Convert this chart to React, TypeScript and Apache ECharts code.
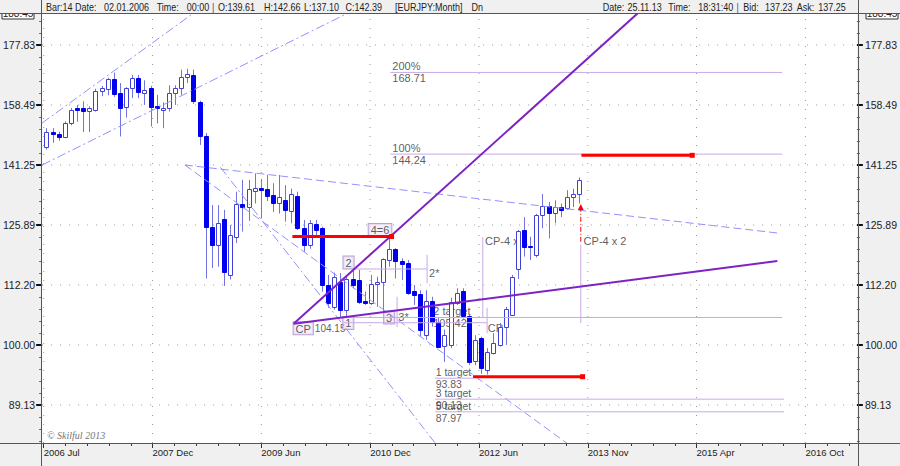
import React, { useEffect, useRef } from "react";
import * as echarts from "echarts";

// month index 0 = 2006 Jul; first visible candle = index 1 (2006 Aug), last = 88 (2013 Nov)
const FIRST_MONTH = 1;
const opens = [
  146.1, 150.5, 150.0, 149.0, 153.0, 157.6, 157.6, 156.8, 157.0, 162.9,
  163.4, 166.6, 162.1, 157.8, 163.6, 166.8, 162.3, 163.6, 158.3, 157.0,
  157.6, 162.1, 163.9, 167.2, 168.0, 159.4, 149.4, 125.5, 121.2, 127.3,
  114.4, 123.1, 131.0, 130.4, 134.4, 135.2, 135.0, 133.4, 131.2, 132.1,
  129.4, 133.2, 125.1, 121.2, 126.1, 125.1, 112.2, 107.6, 112.9, 106.9,
  113.6, 113.3, 108.8, 108.3, 112.4, 112.9, 117.7, 120.2, 117.4, 117.0,
  111.0, 110.2, 102.0, 108.8, 104.6, 99.8, 100.0, 108.3, 111.0, 105.8,
  97.0, 101.3, 95.3, 98.4, 100.0, 103.6, 105.9, 115.7, 124.7, 120.9,
  118.9, 128.3, 130.6, 128.8, 130.2, 130.0, 132.8, 133.6,
];
const closes = [
  150.5, 150.0, 149.0, 153.2, 157.0, 157.0, 156.6, 157.5, 162.9, 163.7,
  166.5, 161.8, 157.6, 163.6, 166.8, 162.6, 163.0, 157.8, 157.5, 157.6,
  162.1, 163.9, 167.2, 168.2, 159.6, 149.4, 125.3, 121.2, 126.4, 115.1,
  123.5, 131.0, 130.4, 134.8, 135.2, 134.7, 133.2, 131.2, 132.8, 129.6,
  133.6, 125.1, 121.2, 126.3, 124.7, 112.2, 108.3, 114.0, 106.9, 113.6,
  112.2, 108.7, 108.4, 112.4, 112.9, 117.9, 120.2, 117.4, 116.8, 110.4,
  110.1, 103.0, 108.8, 104.5, 99.6, 101.9, 108.5, 110.4, 105.8, 96.7,
  101.0, 95.6, 98.7, 100.3, 103.6, 107.1, 114.0, 124.5, 120.6, 120.6,
  128.3, 130.6, 128.8, 130.3, 129.6, 132.8, 133.6, 137.3,
];
const highs = [
  151.6, 151.6, 150.6, 153.6, 157.6, 158.5, 159.6, 158.1, 163.5, 164.4,
  167.0, 168.7, 165.3, 164.0, 167.9, 167.9, 166.2, 164.4, 161.6, 159.3,
  164.6, 164.6, 169.6, 169.9, 169.6, 159.8, 150.2, 130.8, 130.8, 129.6,
  125.9, 134.2, 137.3, 137.3, 139.0, 137.5, 138.6, 136.4, 138.6, 135.9,
  135.0, 134.2, 127.1, 127.1, 127.1, 125.5, 114.4, 114.9, 114.8, 114.0,
  115.5, 115.5, 110.8, 114.4, 114.0, 118.1, 122.7, 120.4, 118.1, 117.7,
  112.2, 111.1, 111.1, 109.7, 105.3, 103.0, 109.5, 111.5, 111.5, 106.0,
  101.9, 101.6, 99.4, 102.3, 104.3, 107.6, 114.4, 124.7, 127.8, 123.1,
  128.6, 133.6, 131.6, 132.0, 131.2, 134.6, 135.0, 137.9,
];
const lows = [
  145.5, 147.4, 148.0, 148.7, 152.4, 153.5, 150.5, 150.5, 156.5, 161.2,
  161.5, 161.0, 149.2, 154.7, 160.6, 160.6, 158.5, 152.1, 153.0, 151.6,
  156.5, 158.5, 161.6, 165.3, 158.8, 146.8, 113.6, 115.9, 116.2, 112.0,
  113.4, 121.6, 124.3, 126.9, 131.2, 127.5, 131.8, 129.1, 128.7, 126.7,
  126.3, 124.7, 119.6, 120.3, 123.0, 110.8, 107.4, 107.0, 105.3, 105.3,
  111.5, 108.2, 108.0, 108.0, 107.6, 106.6, 116.2, 113.6, 113.3, 110.1,
  108.0, 101.6, 101.0, 103.6, 99.4, 96.8, 99.4, 108.0, 105.2, 96.2,
  96.2, 94.6, 94.5, 98.2, 99.7, 100.0, 105.7, 113.5, 118.5, 117.7,
  118.3, 125.1, 122.7, 126.3, 127.8, 129.6, 130.3, 131.2,
];

const yTickPrices = [89.13, 100.0, 112.2, 125.89, 141.25, 158.49, 177.83];
const xTickLabels = ["2006 Jul", "2007 Dec", "2009 Jun", "2010 Dec", "2012 Jun", "2013 Nov", "2015 Apr", "2016 Oct"];
const xTickMonths = [0.39, 18.16, 35.93, 53.7, 71.47, 89.24, 107.0, 124.78];

// header texts
const headerLeft = ["Bar:14", "Date:", "02.01.2006", "Time:", "00:00", "|", "O:139.61", "H:142.66", "L:137.10", "C:142.39", "[EURJPY:Month]", "Dn"];
const headerLeftX = [46, 75, 104, 156.7, 186.7, 212, 218, 264, 304, 345.5, 395, 471.5];
const headerRight = ["Date:", "25.11.13", "Time:", "18:31:40", "|", "Bid:", "137.23", "Ask:", "137.25"];
const headerRightX = [602.7, 627.5, 668.3, 698.3, 736.5, 743.3, 765, 796.7, 818.3];

// drawing objects: [month index, price]
const purpleLines = [
  [[41.2, 104.15], [97.5, 189.2]],
  [[41.2, 104.15], [120.2, 117.5]],
];
const redLines = [
  [[41.0, 123.15], [57.2, 123.15]],
  [[88.2, 143.9], [106.3, 143.9]],
  [[70.5, 94.1], [88.4, 94.1]],
];
const redArrow = [[88.1, 121.9], [88.1, 130.3]];
const lightLines = [
  [[57.0, 168.71], [121.0, 168.71]],
  [[57.0, 144.24], [121.0, 144.24]],
  [[49.3, 105.42], [121.0, 105.42]],
  [[49.3, 104.37], [72.8, 104.37]],
  [[64.3, 93.83], [70.5, 93.83]],
  [[64.3, 90.13], [121.3, 90.13]],
  [[64.3, 87.97], [121.3, 87.97]],
  [[72.1, 123.0], [72.1, 105.3]],
  [[88.1, 121.2], [88.1, 104.3]],
  [[50.5, 115.7], [63.0, 115.7]],
  [[63.0, 118.9], [63.0, 112.6]],
  [[58.1, 109.7], [58.1, 103.5]],
  [[72.8, 107.4], [72.8, 102.3]],
];
const dashDotLines = [
  [[0.13, 153.1], [25.5, 190.1]],
  [[0.13, 141.25], [51.0, 190.1]],
  [[29.28, 140.6], [65.0, 82.0]],
];
const dashedLines = [
  [[23.45, 141.25], [120.2, 123.98]],
  [[23.45, 141.25], [86.5, 82.35]],
];
// [month, price, text, align, vAlign, dx, dy, fontSize]
const textNotes: [number, number, string, string, string, number, number, number][] = [
  [57.0, 168.71, "200%\n168.71", "left", "middle", 2, 0, 11],
  [57.0, 144.24, "100%\n144.24", "left", "middle", 2, 0, 11],
  [41.2, 104.15, "{b|CP}{n|104.15}", "left", "top", 0, -1, 11],
  [57.0, 123.15, "{b|4=6}", "right", "bottom", 1, -1, 11],
  [50.5, 115.7, "{b|2}", "center", "bottom", -2, -1, 11],
  [63.0, 114.8, "2*", "left", "middle", 2, 0, 11],
  [49.3, 105.42, "{b|1}", "left", "top", 0, 0, 11],
  [56.8, 105.42, "{b|3}", "center", "middle", 0, 0, 11],
  [58.3, 105.42, "3*", "left", "middle", 0, 0, 11],
  [64.0, 105.42, "2 target\n105.42", "left", "middle", 0, 0, 11],
  [64.4, 93.83, "1 target\n93.83", "left", "middle", 0, 0, 10.5],
  [64.4, 90.13, "3 target\n90.13", "left", "middle", 0, 0, 10.5],
  [64.4, 87.97, "5 target\n87.97", "left", "middle", 0, 0, 10.5],
  [72.9, 103.3, "CP", "left", "middle", 0, 0, 11],
  [72.3, 122.0, "CP-4 x 1", "left", "middle", 1, 0, 11],
  [88.4, 122.0, "CP-4 x 2", "left", "middle", 1, 0, 11],
];

const FONT = '"Liberation Sans", Arial, sans-serif';
const X_MIN = 0.1303;
const X_MAX = 133.19;
const Y_MIN = 1.918333;
const Y_MAX = 2.275833;
const L = (p: number) => Math.log10(p);

function lineSeries(pts: number[][], style: any, z: number) {
  return {
    type: "line",
    data: pts.map((p) => [p[0], L(p[1])]),
    symbol: "none",
    showSymbol: false,
    lineStyle: style,
    silent: true,
    clip: true,
    z,
  };
}

export default function App() {
  const ref = useRef<HTMLDivElement>(null);
  useEffect(() => {
    document.body.style.margin = "0";
    const chart = echarts.init(ref.current!, null, { renderer: "svg" });

    const candles = opens.map((o, k) => [FIRST_MONTH + k, L(o), L(closes[k]), L(lows[k]), L(highs[k])]);
    const yTickLogs = yTickPrices.map(L);
    const yMinor: number[] = [];
    for (let v = 1.92; v < Y_MAX; v += 0.01) {
      const r = Math.round(v * 100) / 100;
      if (Math.abs(Math.round(r * 20) - r * 20) > 1e-6) yMinor.push(r);
    }
    const step = (xTickMonths[1] - xTickMonths[0]) / 5;
    const xMinor: number[] = [];
    xTickMonths.forEach((m) => {
      for (let j = 1; j < 5; j++) if (m + j * step < X_MAX) xMinor.push(m + j * step);
    });

    const series: any[] = [];
    const gridStyle = { color: "#9a9a9a", width: 1, type: [1, 8] };
    yTickLogs.forEach((v) =>
      series.push({ type: "line", data: [[X_MIN, v], [X_MAX, v]], symbol: "none", lineStyle: gridStyle, silent: true, z: 0 })
    );
    xTickMonths.forEach((m) =>
      series.push({ type: "line", data: [[m, Y_MIN], [m, Y_MAX]], symbol: "none", lineStyle: gridStyle, silent: true, z: 0 })
    );

    series.push({
      type: "scatter",
      symbol: "circle",
      symbolSize: 1,
      itemStyle: { color: "rgba(0,0,0,0)" },
      silent: true,
      z: 1,
      data: textNotes.map((n) => ({
        value: [n[0], L(n[1])],
        label: {
          show: true,
          position: "inside",
          formatter: n[2],
          align: n[3],
          verticalAlign: n[4],
          offset: [n[5], n[6]],
          color: "#333",
          fontSize: n[7],
          lineHeight: n[7] + 1,
          fontFamily: FONT,
          rich: {
            b: {
              color: "#333",
              fontSize: 11,
              fontFamily: FONT,
              lineHeight: 11,
              borderColor: "#a98bd0",
              borderWidth: 1,
              backgroundColor: "#f1ebf8",
              padding: [1, 2, 0, 2],
            },
            n: {
              color: "#333",
              fontSize: 10,
              fontFamily: FONT,
              lineHeight: 11,
              padding: [0, 0, 0, 2],
            },
          },
        },
      })),
    });

    series.push({
      type: "custom",
      z: 3,
      clip: true,
      data: candles,
      encode: { x: 0, y: [1, 2, 3, 4] },
      renderItem: (params: any, api: any) => {
        const x = api.value(0);
        const o = api.value(1);
        const c = api.value(2);
        const l = api.value(3);
        const h = api.value(4);
        const pO = api.coord([x, o]);
        const pC = api.coord([x, c]);
        const pL = api.coord([x, l]);
        const pH = api.coord([x, h]);
        const cx = Math.round(pO[0]);
        const top = Math.round(Math.min(pO[1], pC[1]));
        const bot = Math.round(Math.max(pO[1], pC[1]));
        const bull = c >= o;
        return {
          type: "group",
          children: [
            {
              type: "line",
              shape: { x1: cx - 0.5, y1: pH[1], x2: cx - 0.5, y2: pL[1] },
              style: { stroke: "#7373e0", lineWidth: 1 },
            },
            {
              type: "rect",
              shape: { x: cx - 2.5, y: top + 0.5, width: 4, height: Math.max(1, bot - top) },
              style: {
                fill: bull ? "#ffffff" : "#0000ee",
                stroke: bull ? "#4040d4" : "#0000ee",
                lineWidth: 1,
              },
            },
          ],
        };
      },
    });

    dashDotLines.forEach((ln) => series.push(lineSeries(ln, { color: "#9191ff", width: 1, type: [9, 3, 2, 3] }, 4)));
    dashedLines.forEach((ln) => series.push(lineSeries(ln, { color: "#9191ff", width: 1, type: [8, 4] }, 4)));
    lightLines.forEach((ln) => series.push(lineSeries(ln, { color: "#c9aae6", width: 1 }, 4)));
    purpleLines.forEach((ln) => series.push(lineSeries(ln, { color: "#7d22c4", width: 2 }, 5)));
    redLines.forEach((ln) =>
      series.push({
        type: "line",
        data: [
          { value: [ln[0][0], L(ln[0][1])], symbol: "none" },
          { value: [ln[1][0], L(ln[1][1])], symbol: "rect", symbolSize: 5 },
        ],
        showSymbol: true,
        itemStyle: { color: "#ff0000" },
        lineStyle: { color: "#ff0000", width: 3 },
        silent: true,
        z: 6,
      })
    );
    series.push({
      type: "line",
      data: [
        { value: [redArrow[0][0], L(redArrow[0][1])], symbol: "none" },
        { value: [redArrow[1][0], L(redArrow[1][1])], symbol: "triangle", symbolSize: [6, 6] },
      ],
      showSymbol: true,
      itemStyle: { color: "#ff0000" },
      lineStyle: { color: "#ff0000", width: 1, type: [5, 2, 1, 2] },
      silent: true,
      z: 6,
    });

    const axisBase = { type: "value", min: X_MIN, max: X_MAX, splitLine: { show: false }, axisLine: { show: false } };
    const yBase = { type: "value", min: Y_MIN, max: Y_MAX, splitLine: { show: false }, axisLine: { show: false } };
    const yLabel = (margin: number) => ({
      customValues: yTickLogs,
      formatter: (v: number) => Math.pow(10, v).toFixed(2),
      margin,
      fontSize: 10.5,
      color: "#222",
      fontFamily: FONT,
    });

    const headerText = (t: string, x: number) => ({
      type: "text",
      z: 100,
      x,
      y: 7,
      scaleX: 0.9,
      style: {
        text: t,
        font: `10px ${FONT}`,
        fill: t === "|" ? "#6a3a8a" : "#222",
        align: "left",
        verticalAlign: "middle",
      },
    });

    chart.setOption({
      animation: false,
      backgroundColor: "#f0f0f0",
      grid: { left: 41, top: 14, width: 817, height: 429, show: true, backgroundColor: "#ffffff", borderWidth: 0 },
      xAxis: [
        {
          ...axisBase,
          position: "bottom",
          axisTick: { show: true, customValues: xTickMonths, length: 5, lineStyle: { color: "#333" } },
          axisLabel: {
            customValues: xTickMonths,
            formatter: (v: number) => {
              const k = xTickMonths.findIndex((m) => Math.abs(m - v) < 0.01);
              return k >= 0 ? xTickLabels[k] : "";
            },
            align: "left",
            margin: 4,
            fontSize: 9.5,
            color: "#222",
            fontFamily: FONT,
          },
        },
        {
          ...axisBase,
          position: "bottom",
          axisTick: { show: true, customValues: xMinor, length: 3, lineStyle: { color: "#333" } },
          axisLabel: { show: false },
        },
      ],
      yAxis: [
        {
          ...yBase,
          position: "left",
          axisTick: { show: true, customValues: yTickLogs, length: 6, lineStyle: { color: "#111", width: 2 } },
          axisLabel: yLabel(7),
        },
        {
          ...yBase,
          position: "right",
          axisTick: { show: true, customValues: yTickLogs, length: 6, lineStyle: { color: "#111", width: 2 } },
          axisLabel: yLabel(8),
        },
        {
          ...yBase,
          position: "left",
          axisTick: { show: true, customValues: yMinor, length: 3, lineStyle: { color: "#666" } },
          axisLabel: { show: false },
        },
        {
          ...yBase,
          position: "right",
          axisTick: { show: true, customValues: yMinor, length: 3, lineStyle: { color: "#666" } },
          axisLabel: { show: false },
        },
      ],
      series,
      graphic: [
        { type: "rect", z: 90, shape: { x: 2, y: 8, width: 32, height: 11 }, style: { fill: "#fff", stroke: "#333", lineWidth: 1 } },
        { type: "text", z: 91, x: 18, y: 13, style: { text: "188.45", font: `10px ${FONT}`, fill: "#222", align: "center", verticalAlign: "middle" } },
        { type: "rect", z: 90, shape: { x: 866, y: 8, width: 32, height: 11 }, style: { fill: "#fff", stroke: "#333", lineWidth: 1 } },
        { type: "text", z: 91, x: 882, y: 13, style: { text: "188.45", font: `10px ${FONT}`, fill: "#222", align: "center", verticalAlign: "middle" } },
        { type: "rect", z: 95, shape: { x: 0, y: 0, width: 900, height: 13 }, style: { fill: "#f0f0f0" } },
        { type: "line", z: 100, shape: { x1: 0, y1: 13.5, x2: 900, y2: 13.5 }, style: { stroke: "#555", lineWidth: 1 } },
        { type: "line", z: 100, shape: { x1: 0, y1: 443.5, x2: 900, y2: 443.5 }, style: { stroke: "#555", lineWidth: 1 } },
        { type: "line", z: 100, shape: { x1: 41.5, y1: 0, x2: 41.5, y2: 466 }, style: { stroke: "#555", lineWidth: 1 } },
        { type: "line", z: 100, shape: { x1: 858.5, y1: 0, x2: 858.5, y2: 466 }, style: { stroke: "#555", lineWidth: 1 } },
        ...headerLeft.map((t, k) => headerText(t, headerLeftX[k])),
        ...headerRight.map((t, k) => headerText(t, headerRightX[k])),
        {
          type: "text",
          z: 100,
          x: 47,
          y: 435,
          style: {
            text: "© Skilful 2013",
            font: `italic 10px "Liberation Serif", "Times New Roman", serif`,
            fill: "#777",
            align: "left",
            verticalAlign: "middle",
          },
        },
      ],
    });
    return () => chart.dispose();
  }, []);
  return <div ref={ref} style={{ width: 900, height: 466, position: "absolute", left: 0, top: 0 }} />;
}
